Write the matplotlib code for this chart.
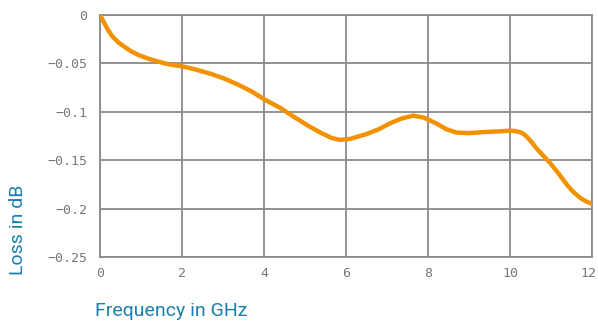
import matplotlib
matplotlib.use("Agg")
import matplotlib.pyplot as plt
import matplotlib.transforms as mtransforms

# Insertion loss vs. frequency
freq_ghz = [0, 0.03, 0.1, 0.2, 0.3, 0.44, 0.6, 0.76, 0.95, 1.17, 1.38, 1.58, 1.8,
            2.0, 2.35, 2.72, 3.05, 3.37, 3.7, 4.0, 4.4, 4.76, 5.1, 5.4, 5.65, 5.85,
            6.1, 6.5, 6.8, 7.07, 7.35, 7.64, 7.9, 8.2, 8.45, 8.7, 9.0, 9.35, 9.7,
            10.0, 10.12, 10.24, 10.33, 10.41, 10.52, 10.65, 10.98, 11.18, 11.4,
            11.55, 11.7, 11.85, 12.0]
loss_db = [0, -0.002, -0.008, -0.0158, -0.022, -0.028, -0.033, -0.0375, -0.0415,
           -0.045, -0.0477, -0.050, -0.0518, -0.053, -0.0565, -0.061, -0.066,
           -0.072, -0.079, -0.087, -0.096, -0.106, -0.115, -0.122, -0.127, -0.129,
           -0.128, -0.123, -0.118, -0.112, -0.107, -0.104, -0.106, -0.112, -0.118,
           -0.1215, -0.122, -0.121, -0.1203, -0.1195, -0.1198, -0.121, -0.1228,
           -0.1257, -0.131, -0.138, -0.153, -0.1635, -0.176, -0.183, -0.1885,
           -0.1925, -0.195]

x_ticks = [0, 2, 4, 6, 8, 10, 12]
y_ticks = [0, -0.05, -0.1, -0.15, -0.2, -0.25]
y_tick_labels = ["0", "\u22120.05", "\u22120.1", "\u22120.15", "\u22120.2", "\u22120.25"]

W, H = 598, 322
fig = plt.figure(figsize=(W / 100, H / 100), dpi=100)
ax = fig.add_axes([100 / W, 1 - 257 / H, 492 / W, 242 / H])

grid_col = "#8a8a8a"
ax.plot(freq_ghz, loss_db, color="#f39200", lw=3.2, solid_joinstyle="round",
        solid_capstyle="butt", zorder=3)

ax.set_xlim(0, 12)
ax.set_ylim(-0.25, 0)
ax.set_xticks(x_ticks)
ax.set_xticklabels([str(t) for t in x_ticks])
ax.set_yticks(y_ticks)
ax.set_yticklabels(y_tick_labels)
ax.tick_params(length=0, labelsize=9.5, labelcolor="#777777")
ax.tick_params(axis="y", pad=9)
ax.tick_params(axis="x", pad=7)
for lbl in ax.get_xticklabels() + ax.get_yticklabels():
    lbl.set_family("DejaVu Sans Mono")

# keep the last frequency label inside the figure
last = ax.get_xticklabels()[-1]
last.set_transform(last.get_transform() +
                   mtransforms.ScaledTranslation(-4 / 100, 0, fig.dpi_scale_trans))

ax.grid(True, color=grid_col, lw=1.3)
for sp in ax.spines.values():
    sp.set_color(grid_col)
    sp.set_linewidth(1.3)

label_col = "#1a7fae"
fig.text(95 / W, 1 - 311 / H, "Frequency in GHz", color=label_col, fontsize=14,
         family="Roboto", ha="left", va="center")
fig.text(18 / W, 1 - 230 / H, "Loss in dB", color=label_col, fontsize=14,
         family="Roboto", ha="center", va="center", rotation=90)

fig.savefig("out.png", dpi=100)
